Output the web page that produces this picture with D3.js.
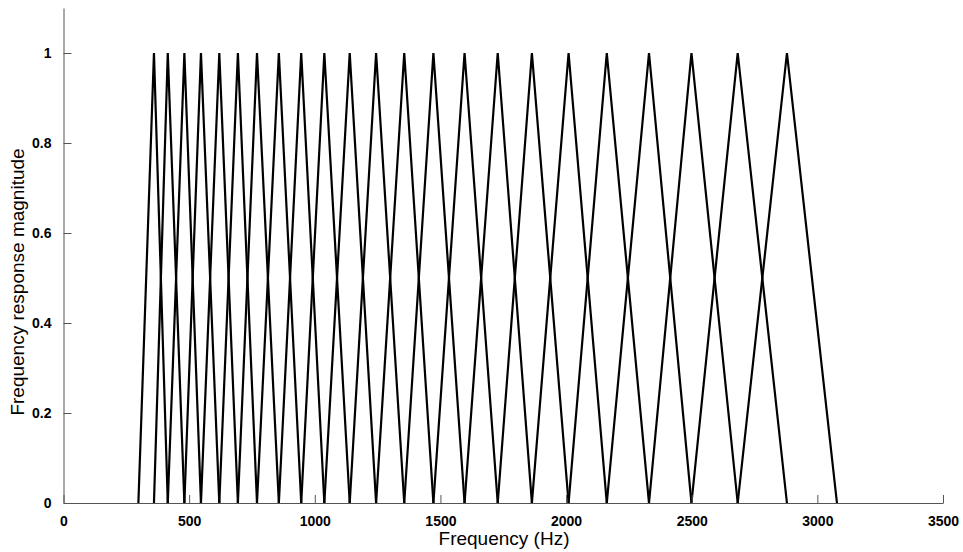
<!DOCTYPE html>
<html>
<head>
<meta charset="utf-8">
<script src="https://cdn.jsdelivr.net/npm/d3@7"></script>
<style>
  body { margin: 0; background: #fff; }
  svg { display: block; }
  .axis text { font-family: "Liberation Sans", Arial, sans-serif; font-weight: bold; font-size: 14px; fill: #000; }
  .axis path, .axis line { stroke: #555; }
  .title { font-family: "Liberation Sans", Arial, sans-serif; font-size: 19px; fill: #000; }
</style>
</head>
<body>
<svg id="chart" width="963" height="552"></svg>
<script>
// filter edge / centre frequencies in Hz (each triangle spans three consecutive points)
const edgeFreqs = [298, 360, 415, 481, 547, 620, 694, 770, 857, 946, 1038, 1139, 1244,
                   1356, 1472, 1596, 1728, 1864, 2010, 2162, 2330, 2499, 2683, 2879, 3078];
const xTicks = [0, 500, 1000, 1500, 2000, 2500, 3000, 3500];
const yTicks = [0, 0.2, 0.4, 0.6, 0.8, 1];

const svg = d3.select("#chart");
const x = d3.scaleLinear().domain([0, 3500]).range([63.5, 943]);
const y = d3.scaleLinear().domain([0, 1.1]).range([503, 8]);

// triangles
const filters = d3.range(1, edgeFreqs.length - 1).map(i => [
    [edgeFreqs[i - 1], 0], [edgeFreqs[i], 1], [edgeFreqs[i + 1], 0]
]);

const line = d3.line().x(d => x(d[0])).y(d => y(d[1]));

svg.append("g")
    .selectAll("path")
    .data(filters)
    .join("path")
    .attr("d", line)
    .attr("fill", "none")
    .attr("stroke", "#000")
    .attr("stroke-width", 2.2);

// axes, ticks pointing inward like matlab
svg.append("g").attr("class", "axis")
    .attr("transform", `translate(0,${y(0)})`)
    .call(d3.axisBottom(x).tickValues(xTicks).tickSizeInner(-8).tickSizeOuter(0).tickPadding(13).tickFormat(d3.format("d")));

svg.append("g").attr("class", "axis")
    .attr("transform", `translate(${x(0)},0)`)
    .call(d3.axisLeft(y).tickValues(yTicks).tickSizeInner(-8).tickSizeOuter(0).tickPadding(12).tickFormat(d => d));

svg.append("text").attr("class", "title")
    .attr("x", 504).attr("y", 545)
    .attr("text-anchor", "middle")
    .text("Frequency (Hz)");

svg.append("text").attr("class", "title")
    .attr("transform", "translate(24,282) rotate(-90)")
    .attr("text-anchor", "middle")
    .text("Frequency response magnitude");
</script>
</body>
</html>
